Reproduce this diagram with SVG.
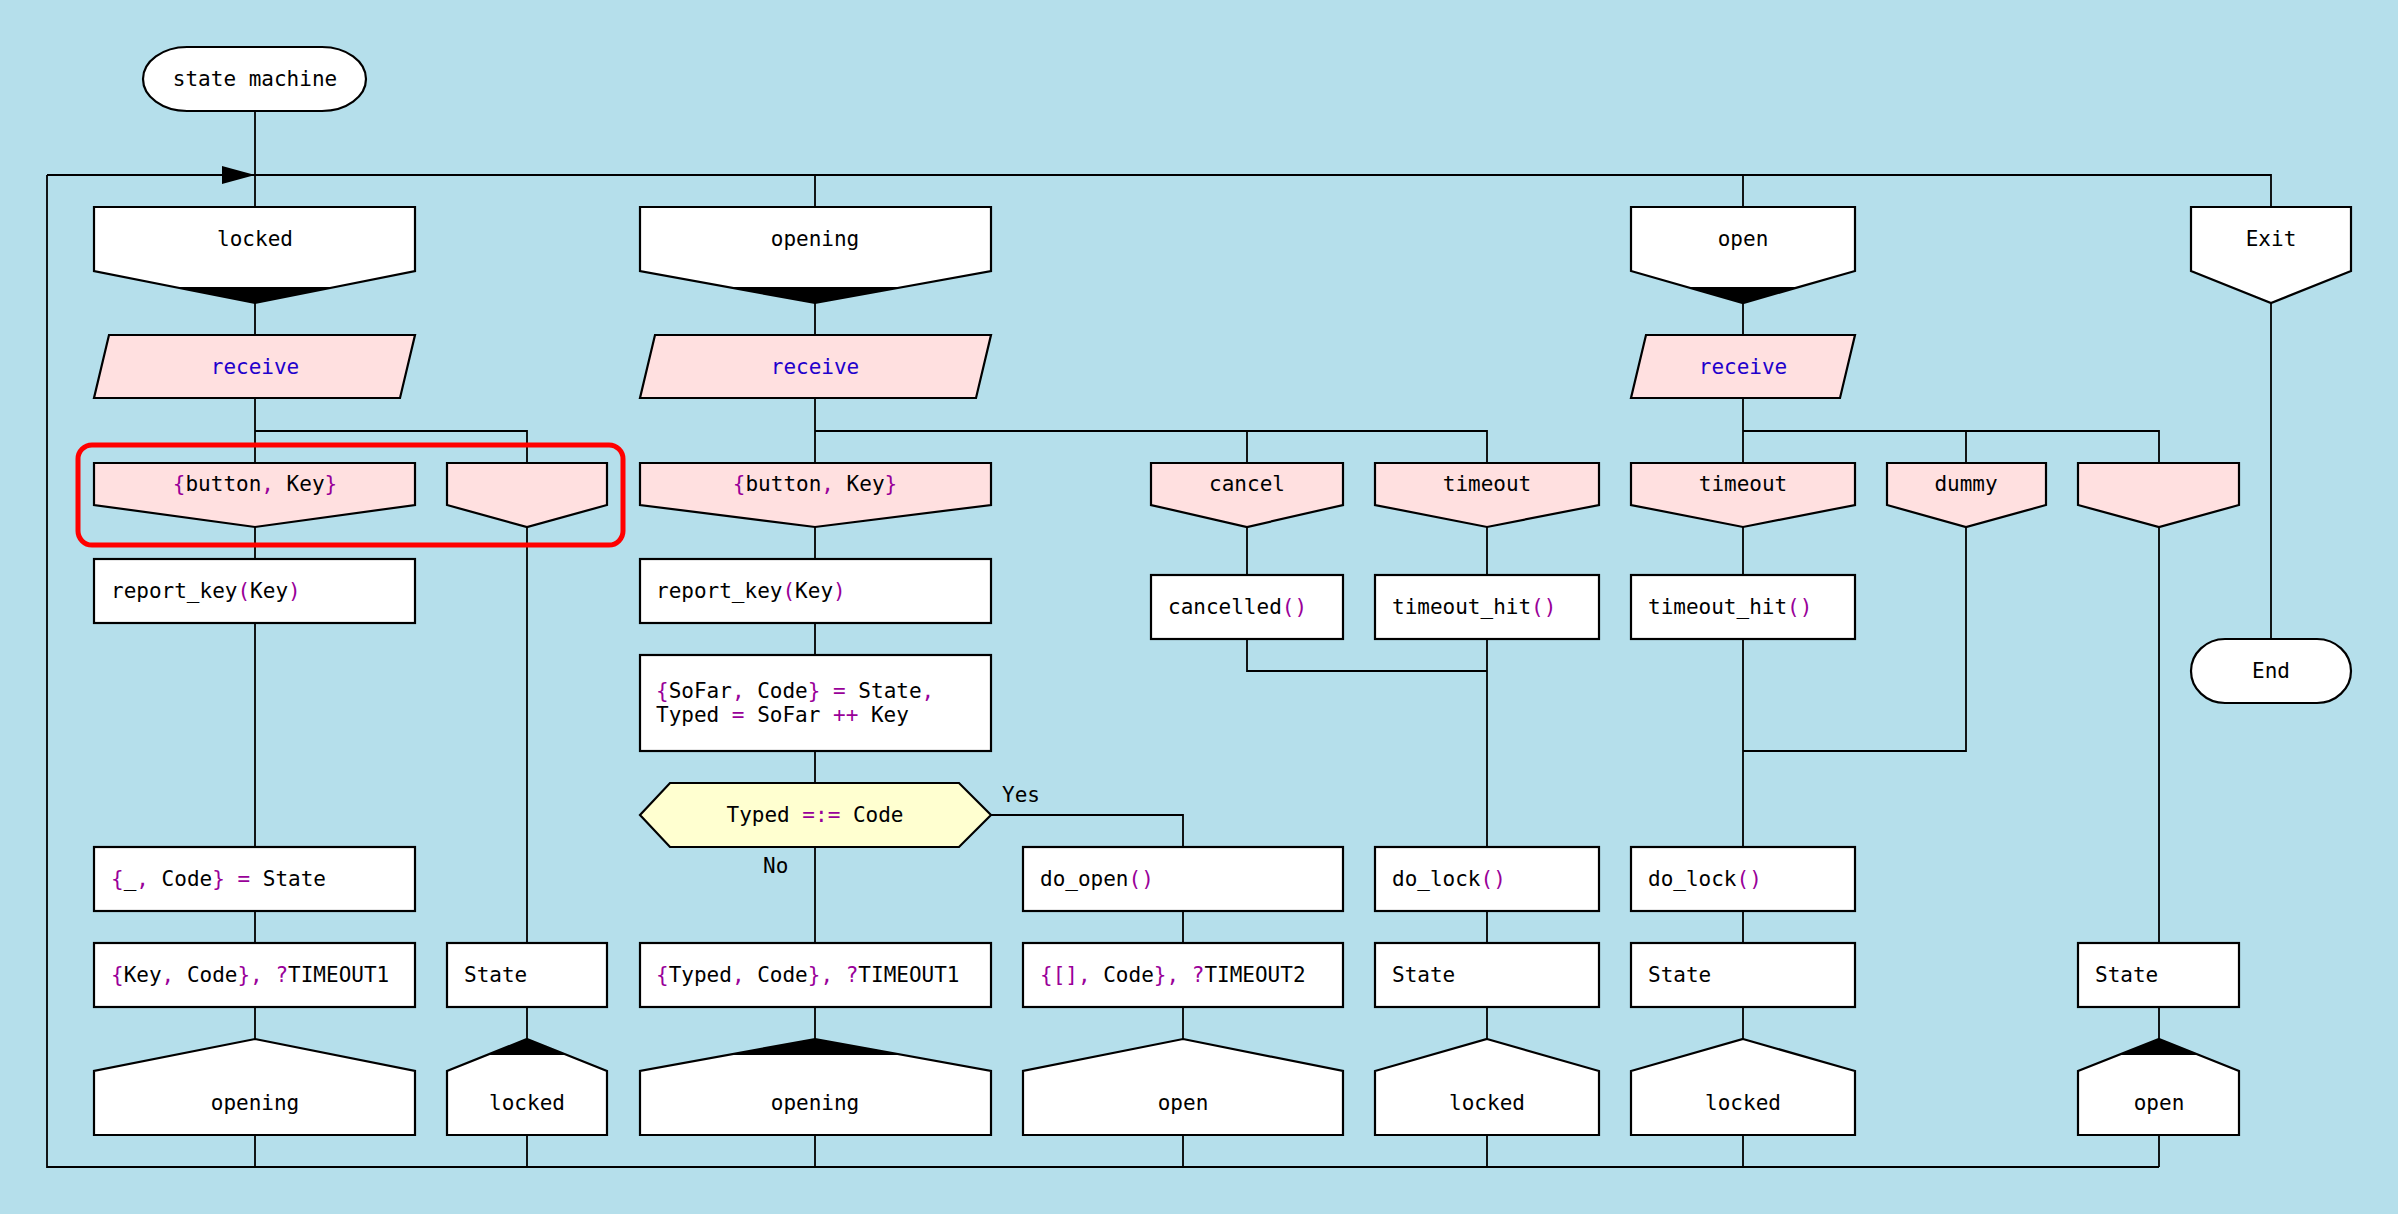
<svg xmlns="http://www.w3.org/2000/svg" width="2398" height="1214" viewBox="0 0 2398 1214">
<style>
text{font-family:"DejaVu Sans Mono","Liberation Mono",monospace;font-size:21px;fill:#000;white-space:pre;dominant-baseline:central}
.c{text-anchor:middle}
.p{fill:#990099}
.b{fill:#2200cc}
.shape{stroke:#000;stroke-width:2.2;fill:#fff}
.ev{stroke:#000;stroke-width:2.2;fill:#ffe0e0}
.dec{stroke:#000;stroke-width:2.2;fill:#ffffd0}
.blk{fill:#000;stroke:none}
#connectors path{fill:none;stroke:#000;stroke-width:1.8}
</style>
<rect x="0" y="0" width="2398" height="1214" fill="#b5dfeb"/>

<g id="connectors">
<path d="M255 111V207"/>
<path d="M47 175H2271V207"/>
<path d="M815 175V207M1743 175V207"/>
<path d="M47 175V1167H2159"/>
<path d="M255 303V335M255 398V463M255 431H527V463M255 527V559M255 623V847M255 911V943M255 1007V1039M255 1135V1167"/>
<path d="M527 527V943M527 1007V1039M527 1135V1167"/>
<path d="M815 303V335M815 398V463M815 431H1487V463M1247 431V463"/>
<path d="M815 527V559M815 623V655M815 751V783M815 847V943M815 1007V1039M815 1135V1167"/>
<path d="M991 815H1183V847M1183 911V943M1183 1007V1039M1183 1135V1167"/>
<path d="M1247 527V575M1247 639V671H1487M1487 527V575M1487 639V847M1487 911V943M1487 1007V1039M1487 1135V1167"/>
<path d="M1743 303V335M1743 398V463M1743 431H2159V463M1966 431V463"/>
<path d="M1743 527V575M1743 639V847M1966 527V751H1743M1743 911V943M1743 1007V1039M1743 1135V1167"/>
<path d="M2159 527V943M2159 1007V1039M2159 1135V1167"/>
<path d="M2271 303V639"/>
<polygon points="222,166 255,175 222,184" fill="#000"/>
</g>

<g id="start">
<rect class="shape" x="143" y="47" width="223" height="64" rx="44" ry="32"/>
<text class="c" x="255" y="79">state machine</text>
</g>

<g id="state-locked">
<polygon class="shape" points="94,207 415,207 415,271 255,303 94,271"/>
<polygon class="blk" points="174.5,287 335,287 255,303"/>
<text class="c" x="255" y="239">locked</text>
</g>
<g id="state-opening">
<polygon class="shape" points="640,207 991,207 991,271 815,303 640,271"/>
<polygon class="blk" points="727.5,287 903,287 815,303"/>
<text class="c" x="815" y="239">opening</text>
</g>
<g id="state-open">
<polygon class="shape" points="1631,207 1855,207 1855,271 1743,303 1631,271"/>
<polygon class="blk" points="1687,287 1799,287 1743,303"/>
<text class="c" x="1743" y="239">open</text>
</g>
<g id="state-exit">
<polygon class="shape" points="2191,207 2351,207 2351,271 2271,303 2191,271"/>
<text class="c" x="2271" y="239">Exit</text>
</g>

<g id="receive-1">
<polygon class="ev" points="109,335 415,335 400,398 94,398"/>
<text class="c b" x="255" y="367">receive</text>
</g>
<g id="receive-2">
<polygon class="ev" points="655,335 991,335 976,398 640,398"/>
<text class="c b" x="815" y="367">receive</text>
</g>
<g id="receive-3">
<polygon class="ev" points="1646,335 1855,335 1840,398 1631,398"/>
<text class="c b" x="1743" y="367">receive</text>
</g>

<g id="ev-button-1">
<polygon class="ev" points="94,463 415,463 415,505 255,527 94,505"/>
<text class="c" x="255" y="484"><tspan class="p">{</tspan>button<tspan class="p">,</tspan> Key<tspan class="p">}</tspan></text>
</g>
<g id="ev-empty-1">
<polygon class="ev" points="447,463 607,463 607,505 527,527 447,505"/>
</g>
<rect id="highlight" x="78" y="445" width="545" height="100" rx="14" ry="14" fill="none" stroke="#ff0000" stroke-width="5"/>

<g id="ev-button-2">
<polygon class="ev" points="640,463 991,463 991,505 815,527 640,505"/>
<text class="c" x="815" y="484"><tspan class="p">{</tspan>button<tspan class="p">,</tspan> Key<tspan class="p">}</tspan></text>
</g>
<g id="ev-cancel">
<polygon class="ev" points="1151,463 1343,463 1343,505 1247,527 1151,505"/>
<text class="c" x="1247" y="484">cancel</text>
</g>
<g id="ev-timeout-1">
<polygon class="ev" points="1375,463 1599,463 1599,505 1487,527 1375,505"/>
<text class="c" x="1487" y="484">timeout</text>
</g>
<g id="ev-timeout-2">
<polygon class="ev" points="1631,463 1855,463 1855,505 1743,527 1631,505"/>
<text class="c" x="1743" y="484">timeout</text>
</g>
<g id="ev-dummy">
<polygon class="ev" points="1887,463 2046,463 2046,505 1966,527 1887,505"/>
<text class="c" x="1966" y="484">dummy</text>
</g>
<g id="ev-empty-2">
<polygon class="ev" points="2078,463 2239,463 2239,505 2159,527 2078,505"/>
</g>

<g id="act-report-1">
<rect class="shape" x="94" y="559" width="321" height="64"/>
<text x="111" y="591">report_key<tspan class="p">(</tspan>Key<tspan class="p">)</tspan></text>
</g>
<g id="act-report-2">
<rect class="shape" x="640" y="559" width="351" height="64"/>
<text x="656" y="591">report_key<tspan class="p">(</tspan>Key<tspan class="p">)</tspan></text>
</g>
<g id="act-cancelled">
<rect class="shape" x="1151" y="575" width="192" height="64"/>
<text x="1168" y="607">cancelled<tspan class="p">()</tspan></text>
</g>
<g id="act-timeout-hit-1">
<rect class="shape" x="1375" y="575" width="224" height="64"/>
<text x="1392" y="607">timeout_hit<tspan class="p">()</tspan></text>
</g>
<g id="act-timeout-hit-2">
<rect class="shape" x="1631" y="575" width="224" height="64"/>
<text x="1648" y="607">timeout_hit<tspan class="p">()</tspan></text>
</g>
<g id="act-sofar">
<rect class="shape" x="640" y="655" width="351" height="96"/>
<text x="656" y="691"><tspan class="p">{</tspan>SoFar<tspan class="p">,</tspan> Code<tspan class="p">}</tspan> <tspan class="p">=</tspan> State<tspan class="p">,</tspan></text>
<text x="656" y="715">Typed <tspan class="p">=</tspan> SoFar <tspan class="p">++</tspan> Key</text>
</g>
<g id="dec-typed">
<polygon class="dec" points="640,815 670,783 959,783 991,815 959,847 670,847"/>
<text class="c" x="815" y="815">Typed <tspan class="p">=:=</tspan> Code</text>
<text x="1002" y="795">Yes</text>
<text x="763" y="866">No</text>
</g>

<g id="act-code">
<rect class="shape" x="94" y="847" width="321" height="64"/>
<text x="111" y="879"><tspan class="p">{</tspan>_<tspan class="p">,</tspan> Code<tspan class="p">}</tspan> <tspan class="p">=</tspan> State</text>
</g>
<g id="act-do-open">
<rect class="shape" x="1023" y="847" width="320" height="64"/>
<text x="1040" y="879">do_open<tspan class="p">()</tspan></text>
</g>
<g id="act-do-lock-1">
<rect class="shape" x="1375" y="847" width="224" height="64"/>
<text x="1392" y="879">do_lock<tspan class="p">()</tspan></text>
</g>
<g id="act-do-lock-2">
<rect class="shape" x="1631" y="847" width="224" height="64"/>
<text x="1648" y="879">do_lock<tspan class="p">()</tspan></text>
</g>

<g id="ret-key">
<rect class="shape" x="94" y="943" width="321" height="64"/>
<text x="111" y="975"><tspan class="p">{</tspan>Key<tspan class="p">,</tspan> Code<tspan class="p">},</tspan> <tspan class="p">?</tspan>TIMEOUT1</text>
</g>
<g id="ret-state-1">
<rect class="shape" x="447" y="943" width="160" height="64"/>
<text x="464" y="975">State</text>
</g>
<g id="ret-typed">
<rect class="shape" x="640" y="943" width="351" height="64"/>
<text x="656" y="975"><tspan class="p">{</tspan>Typed<tspan class="p">,</tspan> Code<tspan class="p">},</tspan> <tspan class="p">?</tspan>TIMEOUT1</text>
</g>
<g id="ret-empty">
<rect class="shape" x="1023" y="943" width="320" height="64"/>
<text x="1040" y="975"><tspan class="p">{[],</tspan> Code<tspan class="p">},</tspan> <tspan class="p">?</tspan>TIMEOUT2</text>
</g>
<g id="ret-state-2">
<rect class="shape" x="1375" y="943" width="224" height="64"/>
<text x="1392" y="975">State</text>
</g>
<g id="ret-state-3">
<rect class="shape" x="1631" y="943" width="224" height="64"/>
<text x="1648" y="975">State</text>
</g>
<g id="ret-state-4">
<rect class="shape" x="2078" y="943" width="161" height="64"/>
<text x="2095" y="975">State</text>
</g>

<g id="next-opening-1">
<polygon class="shape" points="255,1039 415,1071 415,1135 94,1135 94,1071"/>
<text class="c" x="255" y="1103">opening</text>
</g>
<g id="next-locked-1">
<polygon class="shape" points="527,1039 607,1071 607,1135 447,1135 447,1071"/>
<polygon class="blk" points="527,1039 567,1055 487,1055"/>
<text class="c" x="527" y="1103">locked</text>
</g>
<g id="next-opening-2">
<polygon class="shape" points="815,1039 991,1071 991,1135 640,1135 640,1071"/>
<polygon class="blk" points="815,1039 903,1055 727.5,1055"/>
<text class="c" x="815" y="1103">opening</text>
</g>
<g id="next-open-1">
<polygon class="shape" points="1183,1039 1343,1071 1343,1135 1023,1135 1023,1071"/>
<text class="c" x="1183" y="1103">open</text>
</g>
<g id="next-locked-2">
<polygon class="shape" points="1487,1039 1599,1071 1599,1135 1375,1135 1375,1071"/>
<text class="c" x="1487" y="1103">locked</text>
</g>
<g id="next-locked-3">
<polygon class="shape" points="1743,1039 1855,1071 1855,1135 1631,1135 1631,1071"/>
<text class="c" x="1743" y="1103">locked</text>
</g>
<g id="next-open-2">
<polygon class="shape" points="2159,1039 2239,1071 2239,1135 2078,1135 2078,1071"/>
<polygon class="blk" points="2159,1039 2199,1055 2119,1055"/>
<text class="c" x="2159" y="1103">open</text>
</g>

<g id="end">
<rect class="shape" x="2191" y="639" width="160" height="64" rx="34" ry="32"/>
<text class="c" x="2271" y="671">End</text>
</g>
</svg>
